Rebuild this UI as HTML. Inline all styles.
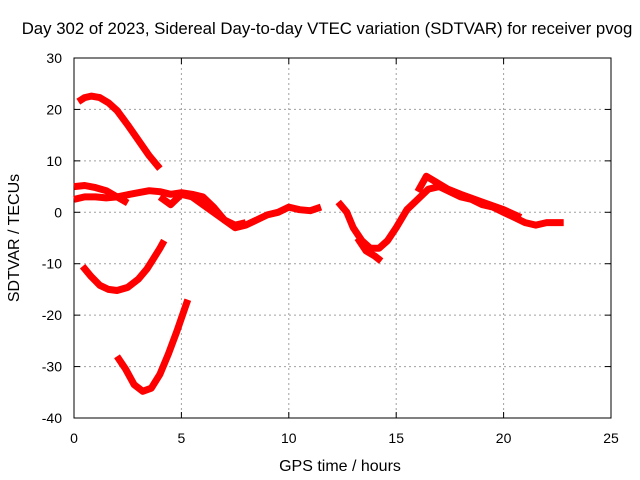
<!DOCTYPE html>
<html><head><meta charset="utf-8"><style>
body{margin:0;background:#fff}
svg{display:block;font-family:"Liberation Sans",sans-serif}
</style></head><body>
<svg id="c" width="640" height="480" viewBox="0 0 640 480" xmlns="http://www.w3.org/2000/svg">
<text x="327" y="34" font-size="16.8" text-anchor="middle">Day 302 of 2023, Sidereal Day-to-day VTEC variation (SDTVAR) for receiver pvog</text>
<text x="340" y="471" font-size="16" text-anchor="middle">GPS time / hours</text>
<text transform="translate(19,238) rotate(-90)" font-size="16" text-anchor="middle">SDTVAR / TECUs</text>
<g id="grid"></g>
<g id="axes"></g>
<g id="series"></g>
</svg>
<script>
const xTicks=[0,5,10,15,20,25];
const yTicks=[-40,-30,-20,-10,0,10,20,30];
const arcTopX=[0.2,0.5,0.8,1.2,1.6,2.0,2.5,3.0,3.5,4.0];
const arcTopY=[21.5,22.3,22.6,22.3,21.3,19.8,17.0,14.0,11.0,8.5];
const arcMidX=[0.4,0.8,1.2,1.6,2.0,2.5,3.0,3.4,3.7,4.0,4.2];
const arcMidY=[-10.5,-12.5,-14.2,-15.0,-15.2,-14.6,-13.0,-11.0,-9.0,-7.0,-5.5];
const arcLowX=[2.0,2.4,2.8,3.2,3.6,4.0,4.4,4.8,5.3];
const arcLowY=[-28.0,-30.5,-33.5,-34.8,-34.2,-31.5,-27.5,-23.0,-17.0];
const bandAX=[0,0.5,1.0,1.5,2.0,2.5];
const bandAY=[5.0,5.2,4.8,4.2,3.0,1.8];
const bandBX=[0,0.5,1.0,1.5,2.0,2.6,3.0,3.5,4.0,4.5,5.0,5.5,6.0,6.5,7.0,7.5,8.0,8.5,9.0,9.5,10.0,10.5,11.0,11.5];
const bandBY=[2.5,3.0,3.0,2.8,3.0,3.5,3.8,4.2,4.0,3.5,3.8,3.5,3.0,1.0,-1.5,-3.0,-2.5,-1.5,-0.5,0.0,1.0,0.5,0.3,1.0];
const bandCX=[4.0,4.5,5.0,5.5,6.0,6.5,7.0,7.5,8.0];
const bandCY=[3.0,1.5,3.5,3.0,1.5,0.0,-1.5,-2.5,-2.0];
const bandDX=[12.3,12.7,13.0,13.4,13.8,14.2,14.6,15.0,15.5,16.0,16.5,17.0,17.5,18.0,18.5,19.0,19.5,20.0,20.5,21.0,21.5,22.0,22.5,22.8];
const bandDY=[2.0,0.0,-3.0,-5.5,-7.0,-7.0,-5.5,-3.0,0.5,2.5,4.5,5.0,4.0,3.0,2.5,1.5,1.0,0.0,-1.0,-2.0,-2.5,-2.0,-2.0,-2.0];
const bandEX=[13.2,13.6,14.0,14.3];
const bandEY=[-5.0,-7.5,-8.5,-9.5];
const bandFX=[16.0,16.4,16.8,17.4,18.0,19.0,20.0,20.8];
const bandFY=[4.0,7.0,6.0,4.5,3.5,2.0,0.5,-1.0];
const NS="http://www.w3.org/2000/svg";
const X0=74,X1=611,Y0=418,Y1=58;
function sx(v){return X0+(v-0)/25*(X1-X0);}
function sy(v){return Y0-(v+40)/70*(Y0-Y1);}
function mk(t,a,p){const e=document.createElementNS(NS,t);for(const k in a)e.setAttribute(k,a[k]);p.appendChild(e);return e;}
const grid=document.getElementById('grid'),axes=document.getElementById('axes'),ser=document.getElementById('series');
xTicks.forEach(v=>{const x=sx(v);
 if(v>0&&v<25){const l=mk('line',{x1:x,x2:x,y1:Y1,y2:Y0,stroke:'#a0a0a0','stroke-dasharray':'2,3'},grid);}
 mk('line',{x1:x,x2:x,y1:Y0,y2:Y0-6,stroke:'#000'},axes);mk('line',{x1:x,x2:x,y1:Y1,y2:Y1+6,stroke:'#000'},axes);
 const t=mk('text',{x:x,y:443,'font-size':14,'text-anchor':'middle'},axes);t.textContent=v;
 });
yTicks.forEach(v=>{const y=sy(v);
 if(v>-40&&v<30){const l=mk('line',{x1:X0,x2:X1,y1:y,y2:y,stroke:'#a0a0a0','stroke-dasharray':'2,3'},grid);}
 mk('line',{x1:X0,x2:X0+6,y1:y,y2:y,stroke:'#000'},axes);mk('line',{x1:X1,x2:X1-6,y1:y,y2:y,stroke:'#000'},axes);
 const t=mk('text',{x:62,y:y+5,'font-size':14,'text-anchor':'end'},axes);t.textContent=v;
 });
const fr=mk('rect',{x:X0,y:Y1,width:X1-X0,height:Y0-Y1,fill:'none',stroke:'#000'},axes);

[[arcTopX,arcTopY,'arc-top'],[arcMidX,arcMidY,'arc-middle'],[arcLowX,arcLowY,'arc-low'],[bandAX,bandAY,'band-a'],[bandBX,bandBY,'band-b'],[bandCX,bandCY,'band-c'],[bandDX,bandDY,'band-d'],[bandEX,bandEY,'band-e'],[bandFX,bandFY,'band-f']].forEach(s=>{
 const pts=s[0].map((x,i)=>sx(x).toFixed(1)+','+sy(s[1][i]).toFixed(1)).join(' ');
 const p=mk('polyline',{points:pts,fill:'none',stroke:'#ff0000','stroke-width':7,'stroke-linejoin':'round'},ser);
 
 
});
</script>
</body></html>
